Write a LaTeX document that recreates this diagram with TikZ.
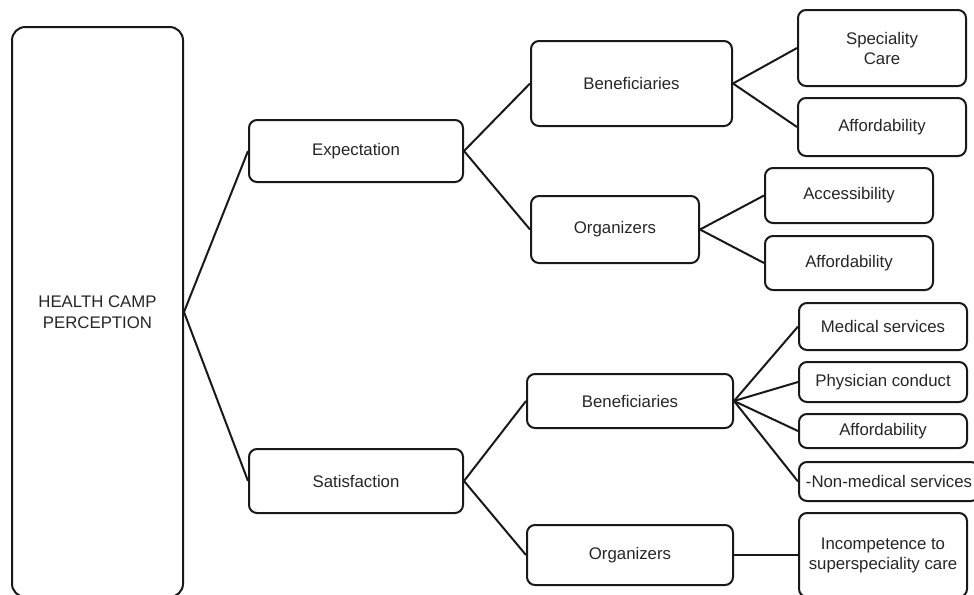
\documentclass[tikz,border=0pt]{standalone}
\usepackage{fontspec}
\setmainfont{Liberation Sans}
\begin{document}
\begin{tikzpicture}[x=0.75pt,y=-0.75pt,
    box/.style={draw=black!90,line width=1.5pt,rounded corners=6pt,align=center,
                inner sep=0pt,text=black!85,font=\fontsize{12.6}{15}\selectfont},
    leaf/.style={box,minimum width=126pt},
    link/.style={draw=black!90,line width=1.5pt}]
\useasboundingbox (0,0) rectangle (974,594);

% root
\node[box,rounded corners=10pt,minimum width=128.25pt,minimum height=427.5pt,
      font=\fontsize{12.6}{16}\selectfont] (root) at (97.5,312) {HEALTH CAMP\\PERCEPTION};

% second level
\node[box,minimum width=160.5pt,minimum height=46.5pt] (exp) at (356,151) {Expectation};
\node[box,minimum width=160.5pt,minimum height=48pt] (sat) at (356,481) {Satisfaction};

% expectation side
\node[box,minimum width=150.75pt,minimum height=63.75pt] (benA) at (631.5,83.5) {Beneficiaries};
\node[box,minimum width=126pt,minimum height=50.25pt] (orgA) at (615,229.5) {Organizers};

\node[leaf,minimum height=57pt]    (spec) at (882,48) {Speciality\\Care};
\node[leaf,minimum height=43.5pt]  (affA) at (882,127) {Affordability};
\node[leaf,minimum height=41.25pt] (acc)  at (849,195.5) {Accessibility};
\node[leaf,minimum height=40.5pt]  (affB) at (849,263) {Affordability};

% satisfaction side
\node[box,minimum width=154.5pt,minimum height=40.5pt] (benB) at (630,401) {Beneficiaries};
\node[box,minimum width=154.5pt,minimum height=45pt] (orgB) at (630,555) {Organizers};

\node[leaf,minimum height=35.25pt] (med)  at (883,326.5) {Medical services};
\node[leaf,minimum height=30pt]    (phys) at (883,382) {Physician conduct};
\node[leaf,minimum height=25.5pt]  (affC) at (883,431) {Affordability};
\node[leaf,minimum width=135pt,minimum height=29.25pt] (nonmed) at (889,481.5) {-Non-medical services};
\node[leaf,minimum height=63pt]    (inc)  at (883,555) {Incompetence to\\superspeciality care};

% connectors
\draw[link] (root.east) -- (exp.west);
\draw[link] (root.east) -- (sat.west);

\draw[link] (exp.east) -- (benA.west);
\draw[link] (exp.east) -- (orgA.west);
\draw[link] (benA.east) -- (spec.west);
\draw[link] (benA.east) -- (affA.west);
\draw[link] (orgA.east) -- (acc.west);
\draw[link] (orgA.east) -- (affB.west);

\draw[link] (sat.east) -- (benB.west);
\draw[link] (sat.east) -- (orgB.west);
\draw[link] (benB.east) -- (med.west);
\draw[link] (benB.east) -- (phys.west);
\draw[link] (benB.east) -- (affC.west);
\draw[link] (benB.east) -- (nonmed.west);
\draw[link] (orgB.east) -- (inc.west);

\end{tikzpicture}
\end{document}
